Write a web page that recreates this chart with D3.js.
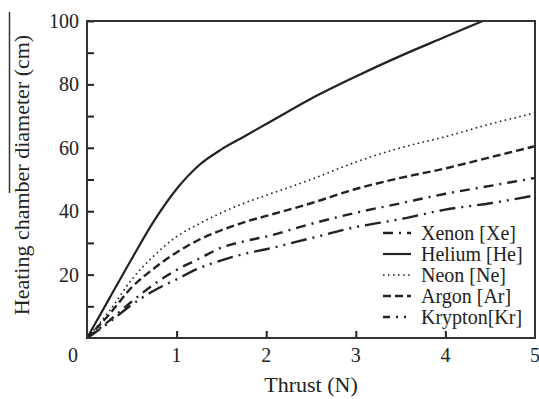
<!DOCTYPE html>
<html>
<head>
<meta charset="utf-8">
<script src="https://cdn.jsdelivr.net/npm/d3@7"></script>
<style>
  html, body { margin: 0; padding: 0; background: #fff; }
  svg { display: block; }
</style>
</head>
<body>
<svg id="chart" width="539" height="399" font-family="'Liberation Serif', 'DejaVu Serif', 'Times New Roman', Times, serif"></svg>
<script>
// ---- data ----
const thrust = [0, 0.25, 0.5, 0.75, 1, 1.25, 1.5, 1.75, 2, 2.5, 3, 3.5, 4, 4.5, 5];
const helium = [0, 12.5, 25, 37, 47, 54.5, 59.5, 63.5, 67.5, 75.5, 82.5, 89, 95, 101, 107];
const neon   = [0, 8.5, 18.5, 26, 32, 36, 39.5, 42.5, 45, 50, 55.5, 60, 63.5, 67.5, 71];
const argon  = [0, 7.5, 16, 22, 27, 31, 34, 36.5, 38.5, 42.5, 47, 50.5, 53.5, 57, 60.5];
const xenon  = [0, 5.5, 11.5, 17, 21.5, 25, 28.5, 30.5, 32, 36, 39.5, 42.5, 45.5, 48, 50.5];
const krypton= [0, 5, 10.5, 15, 18.5, 22, 24.5, 26.5, 28, 31.5, 35, 37.5, 40.5, 42.5, 45];
const seriesNames = ["Xenon [Xe]", "Helium [He]", "Neon [Ne]", "Argon [Ar]", "Krypton[Kr]"];
const xTicks = [1, 2, 3, 4, 5];
const yTicks = [20, 40, 60, 80, 100];
const yMinorTicks = [10, 30, 50, 70, 90];

const series = [
  { name: seriesNames[0], values: xenon,   dash: "10,6,2,6",        width: 2.4, legendOffset: 0 },
  { name: seriesNames[1], values: helium,  dash: null,              width: 2.2, legendOffset: 0 },
  { name: seriesNames[2], values: neon,    dash: "1.6,3.4",         width: 1.6, legendOffset: 0 },
  { name: seriesNames[3], values: argon,   dash: "8,4",             width: 2.4, legendOffset: 0 },
  { name: seriesNames[4], values: krypton, dash: "16,6,2,6,2,6",    width: 2.4, legendOffset: 9 }
];

// ---- layout ----
const svg = d3.select("#chart");
const L = 87, R = 535, T = 21, B = 338;
const x = d3.scaleLinear().domain([0, 5]).range([L, R]);
const y = d3.scaleLinear().domain([0, 100]).range([B, T]);
const ink = "#222";

svg.append("defs").append("clipPath").attr("id", "clip")
  .append("rect").attr("x", L).attr("y", T).attr("width", R - L).attr("height", B - T);

const line = d3.line()
  .x((d, i) => x(thrust[i]))
  .y(d => y(d))
  .curve(d3.curveMonotoneX);

const g = svg.append("g").attr("clip-path", "url(#clip)");
series.forEach(s => {
  g.append("path")
    .attr("d", line(s.values))
    .attr("fill", "none")
    .attr("stroke", ink)
    .attr("stroke-width", s.width)
    .attr("stroke-dasharray", s.dash)
    .attr("stroke-linejoin", "round");
});

const yAxis = d3.axisRight(y).tickValues(yTicks).tickSize(7).tickFormat("");
const yMinor = d3.axisRight(y).tickValues(yMinorTicks).tickSize(7).tickFormat("");
const xAxis = d3.axisTop(x).tickValues(xTicks.slice(0, 4)).tickSize(7).tickFormat("");

[yAxis, yMinor].forEach(a => {
  const ga = svg.append("g").attr("transform", `translate(${L},0)`).call(a);
  ga.select(".domain").remove();
  ga.selectAll("line").attr("stroke", ink).attr("stroke-width", 2);
});
const gx = svg.append("g").attr("transform", `translate(0,${B})`).call(xAxis);
gx.select(".domain").remove();
gx.selectAll("line").attr("stroke", ink).attr("stroke-width", 2);

svg.append("rect")
  .attr("x", L).attr("y", T).attr("width", R - L).attr("height", B - T)
  .attr("fill", "none").attr("stroke", "#333").attr("stroke-width", 2);

const txt = sel => sel.attr("fill", "#222").attr("font-family", "'Liberation Serif', 'DejaVu Serif', serif");

svg.append("g").selectAll("text").data(yTicks).join("text")
  .call(txt)
  .attr("x", 79).attr("y", d => y(d) + 7)
  .attr("text-anchor", "end").attr("font-size", 20)
  .text(d => d);
svg.append("g").selectAll("text").data(xTicks).join("text")
  .call(txt)
  .attr("x", d => x(d)).attr("y", 362)
  .attr("text-anchor", "middle").attr("font-size", 20)
  .text(d => d);
svg.append("text").call(txt).attr("x", 73).attr("y", 362)
  .attr("text-anchor", "middle").attr("font-size", 20).text("0");

svg.append("text").call(txt).attr("x", 311).attr("y", 392)
  .attr("text-anchor", "middle").attr("font-size", 22).text("Thrust (N)");
svg.append("text").call(txt)
  .attr("transform", `translate(29,175) rotate(-90)`)
  .attr("text-anchor", "middle").attr("font-size", 22)
  .text("Heating chamber diameter (cm)");

svg.append("line").attr("x1", 9.5).attr("x2", 9.5).attr("y1", 12).attr("y2", 193)
  .attr("stroke", "#333").attr("stroke-width", 1.5);

const legY = [233, 254, 275, 296, 317];
const lg = svg.append("g");
series.forEach((s, i) => {
  lg.append("line")
    .attr("x1", 383).attr("x2", 411).attr("y1", legY[i]).attr("y2", legY[i])
    .attr("stroke", ink).attr("stroke-width", s.width)
    .attr("stroke-dasharray", s.dash)
    .attr("stroke-dashoffset", s.legendOffset);
  lg.append("text").call(txt).attr("x", 421).attr("y", legY[i] + 7)
    .attr("font-size", 20).text(s.name);
});
</script>
</body>
</html>
